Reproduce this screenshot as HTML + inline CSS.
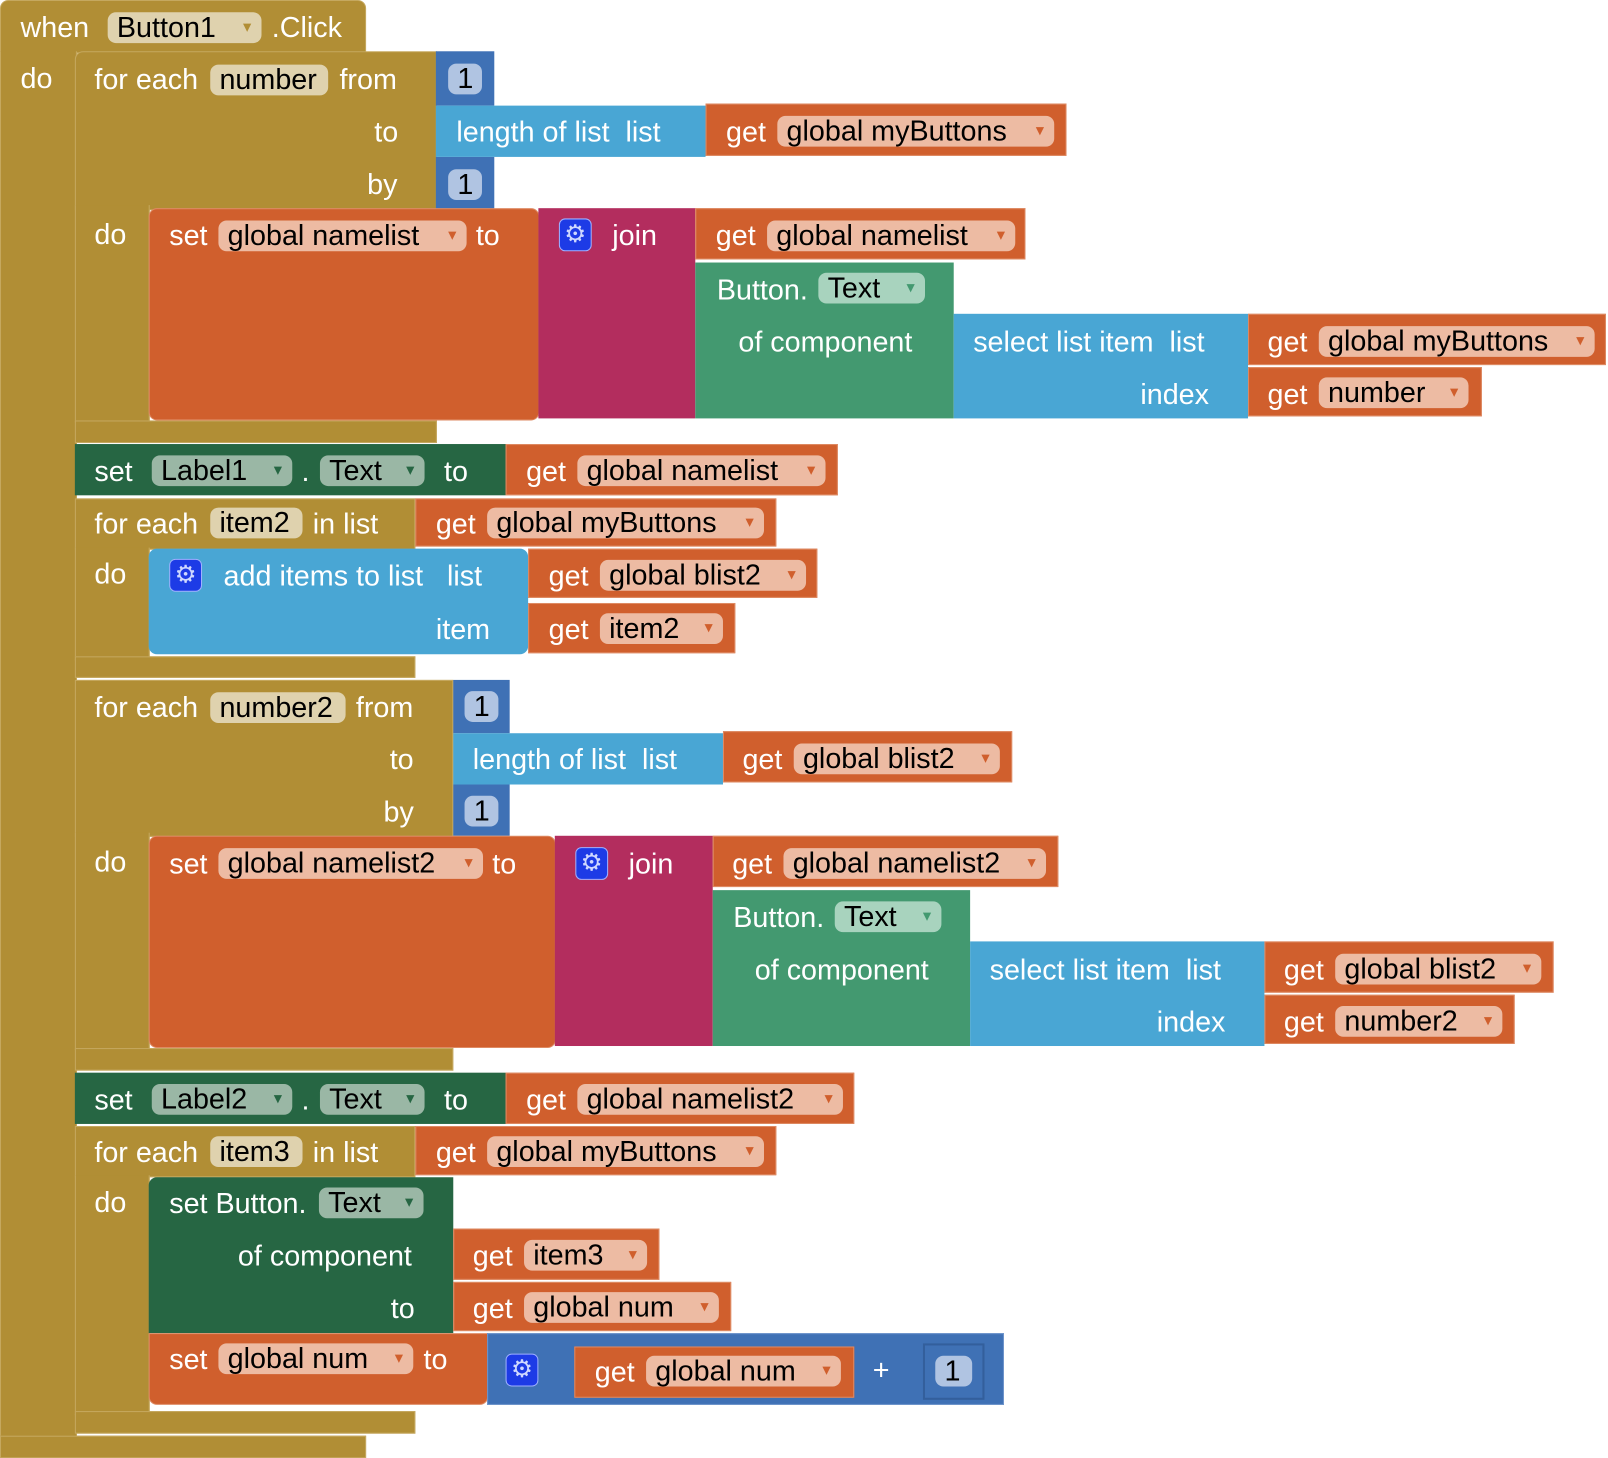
<!DOCTYPE html>
<html><head><meta charset="utf-8"><style>
body{margin:0;background:#fff;width:1608px;height:1458px;overflow:hidden}
#c{position:absolute;left:0;top:0;width:1568px;height:1422px;transform:scale(1.0255);transform-origin:0 0;font-family:"Liberation Sans",sans-serif}
.r{position:absolute;box-sizing:border-box}
.t{position:absolute;color:#fff;font-size:28px;line-height:30px;white-space:nowrap}
.f{position:absolute;height:30px;border-radius:8px;color:#000;font-size:28px;line-height:30px;padding-left:9px;box-sizing:border-box;white-space:nowrap}
.f i{position:absolute;right:10px;top:0;font-style:normal;font-size:16px}
.g{background:#B18E35;border:1px solid #C5A85F}
.o{background:#D05F2D;border:1px solid #DE8A63}
.p{background:#B32D5E}
.lg{background:#439970}
.dg{background:#266643}
.lb{background:#49A6D4}
.mb{background:#3F71B5}
.fg{background:#DFD2AE}
.fo{background:#EDBBA3}.fo i{color:#D05F2D}
.fl{background:#A8D3BE}.fl i{color:#439970}
.fd{background:#9AB7A5}.fd i{color:#266643}
.fn{background:#B0C4E2}
.gear{position:absolute;width:32px;height:32px;border-radius:6px;background:#1D3BE6;border:1px solid #9fb0ff;box-sizing:border-box;color:#cfd8ff;font-size:24px;line-height:30px;text-align:center}
</style></head><body><div id="c">
<div class="r g" style="left:0;top:0;width:357px;height:52px;border-radius:8px 8px 0 0"></div>
<div class="r g" style="left:0;top:50px;width:75px;height:1372px;border-top:none"></div>
<div class="r g" style="left:0;top:1400px;width:357px;height:22px"></div>
<div class="t" style="left:20px;top:12px">when</div>
<div class="f fg" style="left:105px;top:12px;width:150px">Button1<i style="color:#B18E35">▾</i></div>
<div class="t" style="left:265px;top:12px">.Click</div>
<div class="t" style="left:20px;top:62px">do</div>

<div class="r g" style="left:73px;top:50px;width:353px;height:155px;border-radius:8px 0 0 0"></div>
<div class="r g" style="left:73px;top:200px;width:73px;height:212px;border-top:none"></div>
<div class="r g" style="left:73px;top:410px;width:353px;height:22px"></div>
<div class="t" style="left:92px;top:63px">for each</div>
<div class="f fg" style="left:205px;top:63px;width:115px">number</div>
<div class="t" style="left:331px;top:63px">from</div>
<div class="t" style="left:365px;top:114px">to</div>
<div class="t" style="left:358px;top:165px">by</div>
<div class="t" style="left:92px;top:214px">do</div>
<div class="r mb" style="left:425px;top:50px;width:57px;height:53px"></div>
<div class="f fn" style="left:437px;top:62px;width:33px">1</div>
<div class="r mb" style="left:425px;top:153px;width:57px;height:52px"></div>
<div class="f fn" style="left:437px;top:165px;width:33px">1</div>
<div class="r lb" style="left:425px;top:103px;width:263px;height:50px"></div>
<div class="t" style="left:445px;top:114px">length of list&nbsp; list</div>
<div class="r o" style="left:688px;top:101px;width:352px;height:51px"></div>
<div class="t" style="left:708px;top:114px">get</div>
<div class="f fo" style="left:758px;top:113px;width:270px">global myButtons<i>▾</i></div>

<div class="r o" style="left:145px;top:203px;width:381px;height:207px;border-radius:8px"></div>
<div class="t" style="left:165px;top:215px">set</div>
<div class="f fo" style="left:213px;top:215px;width:242px">global namelist<i>▾</i></div>
<div class="t" style="left:464px;top:215px">to</div>
<div class="r p" style="left:525px;top:203px;width:153px;height:205px"></div>
<div class="gear" style="left:545px;top:213px">⚙</div>
<div class="t" style="left:597px;top:215px">join</div>
<div class="r o" style="left:678px;top:203px;width:322px;height:50px"></div>
<div class="t" style="left:698px;top:215px">get</div>
<div class="f fo" style="left:748px;top:215px;width:242px">global namelist<i>▾</i></div>
<div class="r lg" style="left:678px;top:256px;width:252px;height:152px"></div>
<div class="t" style="left:699px;top:268px">Button.</div>
<div class="f fl" style="left:798px;top:266px;width:104px">Text<i>▾</i></div>
<div class="t" style="left:720px;top:319px">of component</div>
<div class="r lb" style="left:930px;top:306px;width:287px;height:102px"></div>
<div class="t" style="left:949px;top:319px">select list item&nbsp; list</div>
<div class="t" style="left:1112px;top:370px">index</div>
<div class="r o" style="left:1217px;top:306px;width:349px;height:50px"></div>
<div class="t" style="left:1236px;top:319px">get</div>
<div class="f fo" style="left:1286px;top:318px;width:269px">global myButtons<i>▾</i></div>
<div class="r o" style="left:1217px;top:358px;width:228px;height:48px"></div>
<div class="t" style="left:1236px;top:370px">get</div>
<div class="f fo" style="left:1286px;top:368px;width:146px">number<i>▾</i></div>

<div class="r dg" style="left:73px;top:433px;width:420px;height:50px"></div>
<div class="t" style="left:92px;top:445px">set</div>
<div class="f fd" style="left:148px;top:444px;width:137px">Label1<i>▾</i></div>
<div class="t" style="left:294px;top:445px">.</div>
<div class="f fd" style="left:312px;top:444px;width:102px">Text<i>▾</i></div>
<div class="t" style="left:433px;top:445px">to</div>
<div class="r o" style="left:493px;top:433px;width:324px;height:50px"></div>
<div class="t" style="left:513px;top:445px">get</div>
<div class="f fo" style="left:563px;top:444px;width:242px">global namelist<i>▾</i></div>

<div class="r g" style="left:73px;top:486px;width:332px;height:50px"></div>
<div class="r g" style="left:73px;top:534px;width:73px;height:110px;border-top:none"></div>
<div class="r g" style="left:73px;top:640px;width:332px;height:21px"></div>
<div class="t" style="left:92px;top:496px">for each</div>
<div class="f fg" style="left:205px;top:495px;width:90px">item2</div>
<div class="t" style="left:305px;top:496px">in list</div>
<div class="t" style="left:92px;top:545px">do</div>
<div class="r o" style="left:405px;top:486px;width:352px;height:47px"></div>
<div class="t" style="left:425px;top:496px">get</div>
<div class="f fo" style="left:475px;top:495px;width:270px">global myButtons<i>▾</i></div>
<div class="r lb" style="left:145px;top:535px;width:370px;height:103px;border-radius:8px"></div>
<div class="gear" style="left:165px;top:545px">⚙</div>
<div class="t" style="left:218px;top:547px">add items to list&nbsp;&nbsp; list</div>
<div class="t" style="left:425px;top:599px">item</div>
<div class="r o" style="left:515px;top:535px;width:282px;height:48px"></div>
<div class="t" style="left:535px;top:547px">get</div>
<div class="f fo" style="left:585px;top:546px;width:201px">global blist2<i>▾</i></div>
<div class="r o" style="left:515px;top:588px;width:202px;height:49px"></div>
<div class="t" style="left:535px;top:599px">get</div>
<div class="f fo" style="left:585px;top:598px;width:120px">item2<i>▾</i></div>

<div class="r g" style="left:73px;top:663px;width:369px;height:153px"></div>
<div class="r g" style="left:73px;top:812px;width:73px;height:212px;border-top:none"></div>
<div class="r g" style="left:73px;top:1022px;width:369px;height:22px"></div>
<div class="t" style="left:92px;top:675px">for each</div>
<div class="f fg" style="left:205px;top:675px;width:132px">number2</div>
<div class="t" style="left:347px;top:675px">from</div>
<div class="t" style="left:380px;top:726px">to</div>
<div class="t" style="left:374px;top:777px">by</div>
<div class="t" style="left:92px;top:826px">do</div>
<div class="r mb" style="left:442px;top:663px;width:55px;height:52px"></div>
<div class="f fn" style="left:453px;top:674px;width:33px">1</div>
<div class="r mb" style="left:442px;top:765px;width:55px;height:50px"></div>
<div class="f fn" style="left:453px;top:776px;width:33px">1</div>
<div class="r lb" style="left:442px;top:715px;width:263px;height:50px"></div>
<div class="t" style="left:461px;top:726px">length of list&nbsp; list</div>
<div class="r o" style="left:705px;top:713px;width:282px;height:50px"></div>
<div class="t" style="left:724px;top:726px">get</div>
<div class="f fo" style="left:774px;top:725px;width:201px">global blist2<i>▾</i></div>

<div class="r o" style="left:145px;top:815px;width:397px;height:207px;border-radius:8px"></div>
<div class="t" style="left:165px;top:828px">set</div>
<div class="f fo" style="left:213px;top:827px;width:258px">global namelist2<i>▾</i></div>
<div class="t" style="left:480px;top:828px">to</div>
<div class="r p" style="left:541px;top:815px;width:154px;height:205px"></div>
<div class="gear" style="left:561px;top:826px">⚙</div>
<div class="t" style="left:613px;top:828px">join</div>
<div class="r o" style="left:695px;top:815px;width:337px;height:50px"></div>
<div class="t" style="left:714px;top:828px">get</div>
<div class="f fo" style="left:764px;top:827px;width:256px">global namelist2<i>▾</i></div>
<div class="r lg" style="left:695px;top:868px;width:251px;height:152px"></div>
<div class="t" style="left:715px;top:880px">Button.</div>
<div class="f fl" style="left:814px;top:879px;width:104px">Text<i>▾</i></div>
<div class="t" style="left:736px;top:931px">of component</div>
<div class="r lb" style="left:946px;top:918px;width:287px;height:102px"></div>
<div class="t" style="left:965px;top:931px">select list item&nbsp; list</div>
<div class="t" style="left:1128px;top:982px">index</div>
<div class="r o" style="left:1233px;top:918px;width:282px;height:50px"></div>
<div class="t" style="left:1252px;top:931px">get</div>
<div class="f fo" style="left:1302px;top:930px;width:201px">global blist2<i>▾</i></div>
<div class="r o" style="left:1233px;top:970px;width:244px;height:48px"></div>
<div class="t" style="left:1252px;top:982px">get</div>
<div class="f fo" style="left:1302px;top:981px;width:163px">number2<i>▾</i></div>

<div class="r dg" style="left:73px;top:1046px;width:420px;height:50px"></div>
<div class="t" style="left:92px;top:1058px">set</div>
<div class="f fd" style="left:148px;top:1057px;width:137px">Label2<i>▾</i></div>
<div class="t" style="left:294px;top:1058px">.</div>
<div class="f fd" style="left:312px;top:1057px;width:102px">Text<i>▾</i></div>
<div class="t" style="left:433px;top:1058px">to</div>
<div class="r o" style="left:493px;top:1046px;width:340px;height:50px"></div>
<div class="t" style="left:513px;top:1058px">get</div>
<div class="f fo" style="left:563px;top:1057px;width:259px">global namelist2<i>▾</i></div>

<div class="r g" style="left:73px;top:1098px;width:332px;height:50px"></div>
<div class="r g" style="left:73px;top:1146px;width:73px;height:234px;border-top:none"></div>
<div class="r g" style="left:73px;top:1376px;width:332px;height:22px"></div>
<div class="t" style="left:92px;top:1109px">for each</div>
<div class="f fg" style="left:205px;top:1108px;width:90px">item3</div>
<div class="t" style="left:305px;top:1109px">in list</div>
<div class="t" style="left:92px;top:1158px">do</div>
<div class="r o" style="left:405px;top:1098px;width:352px;height:48px"></div>
<div class="t" style="left:425px;top:1109px">get</div>
<div class="f fo" style="left:475px;top:1108px;width:270px">global myButtons<i>▾</i></div>
<div class="r dg" style="left:145px;top:1148px;width:297px;height:152px;border-radius:8px 0 0 0"></div>
<div class="t" style="left:165px;top:1159px">set Button.</div>
<div class="f fd" style="left:311px;top:1158px;width:102px">Text<i>▾</i></div>
<div class="t" style="left:232px;top:1210px">of component</div>
<div class="t" style="left:381px;top:1261px">to</div>
<div class="r o" style="left:442px;top:1198px;width:201px;height:50px"></div>
<div class="t" style="left:461px;top:1210px">get</div>
<div class="f fo" style="left:511px;top:1209px;width:120px">item3<i>▾</i></div>
<div class="r o" style="left:442px;top:1250px;width:271px;height:48px"></div>
<div class="t" style="left:461px;top:1261px">get</div>
<div class="f fo" style="left:511px;top:1260px;width:190px">global num<i>▾</i></div>
<div class="r o" style="left:145px;top:1300px;width:331px;height:70px;border-radius:0 0 8px 8px"></div>
<div class="t" style="left:165px;top:1311px">set</div>
<div class="f fo" style="left:213px;top:1310px;width:190px">global num<i>▾</i></div>
<div class="t" style="left:413px;top:1311px">to</div>
<div class="r mb" style="left:475px;top:1300px;width:504px;height:70px;border:1px solid #6f95cc"></div>
<div class="gear" style="left:493px;top:1320px">⚙</div>
<div class="r o" style="left:560px;top:1313px;width:273px;height:50px"></div>
<div class="t" style="left:580px;top:1323px">get</div>
<div class="f fo" style="left:630px;top:1322px;width:190px">global num<i>▾</i></div>
<div class="t" style="left:851px;top:1321px">+</div>
<div class="r mb" style="left:900px;top:1310px;width:60px;height:55px;border:2px solid #335f9c"></div>
<div class="f fn" style="left:912px;top:1322px;width:36px">1</div>
</div></body></html>
